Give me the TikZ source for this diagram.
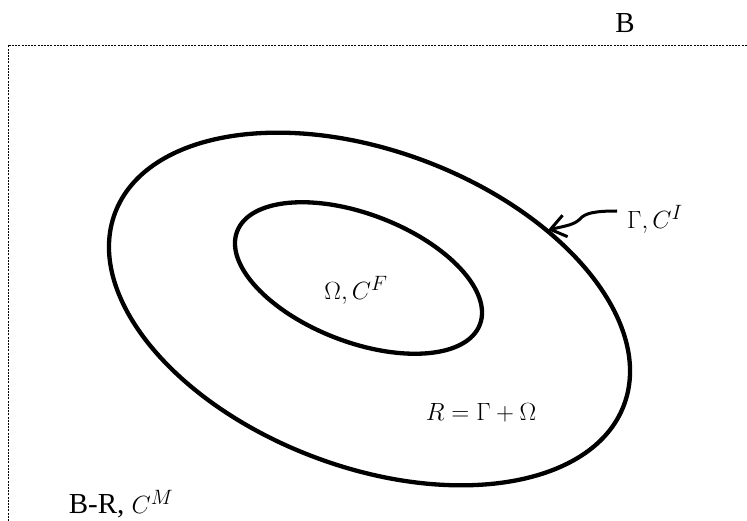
\documentclass[tikz,border=0pt]{standalone}
\usepackage{fontspec}
\setmainfont{Liberation Serif}
\usetikzlibrary{arrows.meta}
\begin{document}
\begin{tikzpicture}[x=1pt,y=-1pt,
  region/.style={line width=4.3pt},
  lbl/.style={font=\fontsize{29}{34}\selectfont, inner sep=0pt},
  bbox/.style={line width=0.8pt, dash pattern=on 2pt off 1.2pt},
  pointer/.style={line width=3pt, {Straight Barb[length=15pt,width=22pt]}-}]
\useasboundingbox (0,0) rectangle (747,521);
\coordinate (bl) at (8,521);
\coordinate (tl) at (8,45);
\coordinate (tr) at (747,45);
\draw[bbox] (bl) -- (tl) -- (tr);
\node[lbl] (B) at (625,23) {B};
\draw[region, rotate around={-20.7:(369.5,309)}] (369.5,309) ellipse [x radius=272, y radius=158];
\draw[region, rotate around={-21:(358.5,278)}] (358.5,278) ellipse [x radius=130, y radius=64];
\node[lbl] (omega) at (356,290) {$\Omega, C^{F}$};
\node[lbl] (R) at (481,413) {$R = \Gamma + \Omega$};
\node[lbl] (BR) at (121,504) {B-R, $C^{M}$};
\node[lbl, anchor=west] (gamma) at (627,219) {$\Gamma, C^{I}$};
\coordinate (tip) at (548,230);
\coordinate (tail) at (617,211);
\draw[pointer] (tip) .. controls (565,226) and (574,225) .. (580,219) .. controls (585,213) and (595,211) .. (tail);
\end{tikzpicture}
\end{document}
